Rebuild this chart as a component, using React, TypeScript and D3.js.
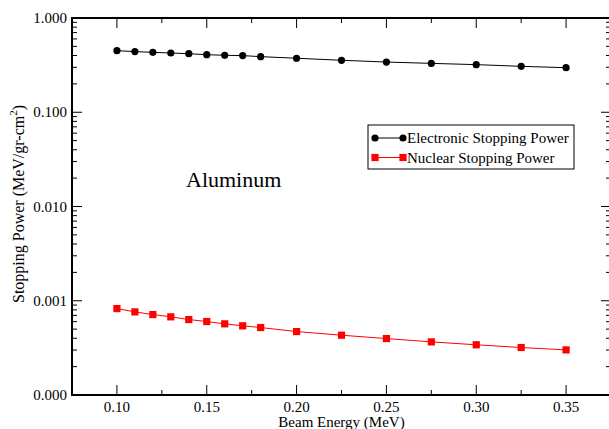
import React, { useEffect, useRef } from 'react';
import * as d3 from 'd3';

// beam energy (MeV)
const energies = [0.10, 0.11, 0.12, 0.13, 0.14, 0.15, 0.16, 0.17, 0.18, 0.20, 0.225, 0.25, 0.275, 0.30, 0.325, 0.35];
// stopping power (MeV/gr-cm^2)
const electronic = [0.450, 0.440, 0.432, 0.425, 0.418, 0.408, 0.402, 0.399, 0.389, 0.374, 0.356, 0.341, 0.330, 0.320, 0.307, 0.297];
const nuclear = [0.000826, 0.000762, 0.000714, 0.000675, 0.000632, 0.000602, 0.000569, 0.000542, 0.000520, 0.000471, 0.000431, 0.000397, 0.000366, 0.000341, 0.000319, 0.000301];
const xMajor = [0.10, 0.15, 0.20, 0.25, 0.30, 0.35];
const xMinor = [0.125, 0.175, 0.225, 0.275, 0.325];
const yMajor = [0.0001, 0.001, 0.01, 0.1, 1];

const W = 609;
const H = 429;

export default function App() {
  const ref = useRef<SVGSVGElement>(null);

  useEffect(() => {
    const svg = d3.select(ref.current);
    svg.selectAll('*').remove();

    const left = 72, right = 611, top = 18, bottom = 395;

    const x = d3.scaleLinear().domain([0.075, 0.375]).range([left, right]);
    const y = d3.scaleLog().domain([0.0001, 1]).range([bottom, top]);

    const g = svg.append('g')
      .style('font-family', '"Liberation Serif", "Times New Roman", serif');

    // minor log ticks
    const yMinor: number[] = [];
    for (let k = 0; k < yMajor.length - 1; k++) {
      for (let m = 2; m <= 9; m++) yMinor.push(yMajor[k] * m);
    }

    const tick = (x1: number, y1: number, x2: number, y2: number) =>
      g.append('line')
        .attr('x1', x1).attr('y1', y1).attr('x2', x2).attr('y2', y2)
        .attr('stroke', '#000').attr('stroke-width', 1);

    xMajor.forEach(v => {
      tick(x(v), bottom, x(v), bottom - 10);
      tick(x(v), top, x(v), top + 10);
    });
    xMinor.forEach(v => {
      tick(x(v), bottom, x(v), bottom - 5);
      tick(x(v), top, x(v), top + 5);
    });
    yMajor.forEach(v => {
      tick(left, y(v), left + 10, y(v));
      tick(right, y(v), right - 10, y(v));
    });
    yMinor.forEach(v => {
      tick(left, y(v), left + 5, y(v));
      tick(right, y(v), right - 5, y(v));
    });

    // frame
    g.append('rect')
      .attr('x', left).attr('y', top)
      .attr('width', right - left).attr('height', bottom - top)
      .attr('fill', 'none').attr('stroke', '#000').attr('stroke-width', 2);

    // tick labels
    g.selectAll('.xl').data(xMajor).enter().append('text')
      .attr('x', d => x(d)).attr('y', bottom + 17)
      .attr('text-anchor', 'middle')
      .attr('font-size', 15)
      .text(d => d3.format('.2f')(d));

    g.selectAll('.yl').data(yMajor).enter().append('text')
      .attr('x', left - 5).attr('y', d => y(d) + 5)
      .attr('text-anchor', 'end')
      .attr('font-size', 15)
      .text(d => d3.format('.3f')(d));

    // axis titles
    g.append('text')
      .attr('x', (left + right) / 2).attr('y', bottom + 32)
      .attr('text-anchor', 'middle')
      .attr('font-size', 15)
      .text('Beam Energy (MeV)');

    const yt = g.append('text')
      .attr('transform', 'translate(24,204) rotate(-90)')
      .attr('text-anchor', 'middle')
      .attr('font-size', 16);
    yt.append('tspan').text('Stopping Power (MeV/gr-cm');
    yt.append('tspan').attr('dy', -7).attr('font-size', 11).text('2');
    yt.append('tspan').attr('dy', 7).text(')');

    // series
    const series = [
      { name: 'Electronic Stopping Power', values: electronic, color: '#000', shape: 'circle' },
      { name: 'Nuclear Stopping Power', values: nuclear, color: '#ff0000', shape: 'square' },
    ];

    const lineGen = d3.line<number>()
      .x((d, i) => x(energies[i]))
      .y(d => y(d));

    const marker = (sel: any, shape: string, color: string, cx: number, cy: number) => {
      if (shape === 'circle') {
        sel.append('circle').attr('cx', cx).attr('cy', cy).attr('r', 3.6).attr('fill', color);
      } else {
        sel.append('rect').attr('x', cx - 3.6).attr('y', cy - 3.6)
          .attr('width', 7.2).attr('height', 7.2).attr('fill', color);
      }
    };

    series.forEach(s => {
      g.append('path')
        .attr('d', lineGen(s.values))
        .attr('fill', 'none').attr('stroke', s.color).attr('stroke-width', 1);
      s.values.forEach((v, i) => marker(g, s.shape, s.color, x(energies[i]), y(v)));
    });

    // legend
    const lx = 368, ly = 125, lw = 206, lh = 44;
    g.append('rect')
      .attr('x', lx).attr('y', ly).attr('width', lw).attr('height', lh)
      .attr('fill', '#fff').attr('stroke', '#000').attr('stroke-width', 1);
    series.forEach((s, i) => {
      const yy = ly + 13 + i * 19.5;
      g.append('line')
        .attr('x1', lx + 7).attr('x2', lx + 35)
        .attr('y1', yy).attr('y2', yy)
        .attr('stroke', s.color).attr('stroke-width', 1);
      marker(g, s.shape, s.color, lx + 7, yy);
      marker(g, s.shape, s.color, lx + 35, yy);
      g.append('text')
        .attr('x', lx + 39).attr('y', yy + 5)
        .attr('font-size', 15)
        .text(s.name);
    });

    // annotation
    g.append('text')
      .attr('x', 186).attr('y', 187)
      .attr('font-size', 22)
      .text('Aluminum');
  }, []);

  return (
    <div style={{ position: 'fixed', left: 0, top: 0, width: W, height: H, background: '#fff' }}>
      <svg ref={ref} width={W} height={H} style={{ display: 'block' }} />
    </div>
  );
}
